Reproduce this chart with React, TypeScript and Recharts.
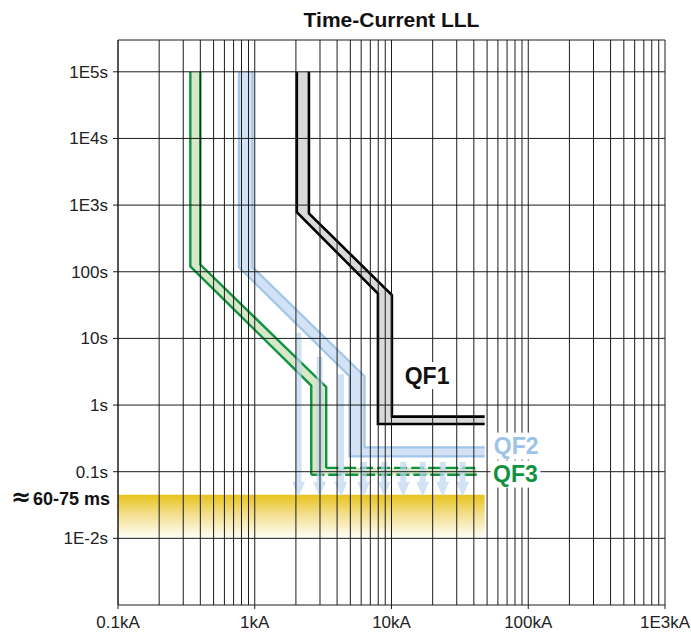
import React from 'react';
import { ComposedChart, Scatter, XAxis, YAxis, CartesianGrid, ReferenceArea } from 'recharts';

const FONT = '"Liberation Sans", Arial, Helvetica, sans-serif';
const INK = '#1c1c1c';

// axes
const xTicks = [0.1, 1, 10, 100, 1000];
const xTickLabels = ['0.1kA', '1kA', '10kA', '100kA', '1E3kA'];
const xGridLines = [
  0.1, 0.2, 0.3, 0.4, 0.5, 0.6, 0.7, 0.8, 0.9,
  1, 2, 3, 4, 5, 6, 7, 8, 9,
  10, 20, 30, 40, 50, 60, 70, 80, 90,
  100, 200, 300, 400, 500, 600, 700, 800, 900,
  1000,
];
const yTicks = [0.01, 0.1, 1, 10, 100, 1000, 10000, 100000];
const yTickLabels = ['1E-2s', '0.1s', '1s', '10s', '100s', '1E3s', '1E4s', '1E5s'];
const yMin = 0.001;
const yMax = 300000;

// breaker bands, [current kA, time s]: fast edge and slow edge
const qf1Min = [[2.03, 1e5], [2.03, 780], [7.96, 47], [7.96, 0.52], [48, 0.52]];
const qf1Max = [[2.49, 1e5], [2.49, 750], [10.07, 44.7], [10.07, 0.67], [48, 0.67]];
const qf2Min = [[0.766, 1e5], [0.766, 117], [4.93, 2.7], [4.93, 0.17], [48, 0.17]];
const qf2Max = [[0.964, 1e5], [0.964, 117], [6.35, 2.7], [6.35, 0.232], [48, 0.232]];
const qf3Min = [[0.338, 1e5], [0.338, 120], [2.59, 1.96], [2.59, 0.09], [42, 0.09]];
const qf3Max = [[0.4, 1e5], [0.4, 128], [3.33, 1.87], [3.33, 0.114], [42, 0.114]];

// down arrows (kA, start time s), all ending at arrowTo
const arrowCurrents = [2.09, 2.98, 4.27, 6.26, 8.85, 12.2, 16.9, 23.7, 33.1];
const arrowFrom = [12.2, 5.3, 2.9, 0.14, 0.14, 0.14, 0.14, 0.14, 0.14];
const arrowTo = 0.042;

// let-through band
const bandCurrents = [0.1, 48];
const bandTimes = [0.01, 0.045];
const bandLabel = '60-75 ms';
const bandLabelAt = [0.1, 0.0394];

const labelNames = ['QF1', 'QF2', 'QF3'];
const labelCurrents = [18.2, 81.6, 80.5];
const labelTimes = [2.77, 0.242, 0.092];
const labelColors = ['#111111', '#9dc3e6', '#12923f'];

const pts = (arr: number[][]) => arr.map(([i, t]) => ({ i, t }));
const pathD = (points: any[], close = false) =>
  points.map((p, k) => `${k ? 'L' : 'M'}${p.x},${p.y}`).join('') + (close ? 'Z' : '');
const noDot = () => <g />;

function band(min: number[][], max: number[][], fill: string, key: string) {
  return (
    <Scatter
      key={key}
      data={pts([...min, ...max.slice().reverse()])}
      shape={noDot}
      line={(p: any) => <path d={pathD(p.points, true)} fill={fill} stroke="none" />}
      isAnimationActive={false}
    />
  );
}

function edge(line: number[][], stroke: string, width: number, key: string, dash?: string) {
  return (
    <Scatter
      key={key}
      data={pts(line)}
      shape={noDot}
      line={(p: any) => (
        <path
          d={pathD(p.points)}
          fill="none"
          stroke={stroke}
          strokeWidth={width}
          strokeDasharray={dash}
          strokeLinejoin="miter"
        />
      )}
      isAnimationActive={false}
    />
  );
}

function arrow(i: number, from: number, k: number) {
  return (
    <Scatter
      key={'arrow' + k}
      data={pts([[i, from], [i, arrowTo]])}
      shape={noDot}
      line={(p: any) => {
        const [a, b] = p.points;
        const head = 15;
        return (
          <g fill="#bcd5f0" fillOpacity={0.7}>
            <rect x={a.x - 3} y={a.y} width={6} height={b.y - head - a.y} />
            <path d={`M${b.x - 6.5},${b.y - head}L${b.x + 6.5},${b.y - head}L${b.x},${b.y}Z`} />
          </g>
        );
      }}
      isAnimationActive={false}
    />
  );
}

export default function App() {
  return (
    <div style={{ position: 'absolute', left: 0, top: 0, width: 691, height: 634 }}>
      <svg width={0} height={0} style={{ position: 'absolute' }}>
        <defs>
          <linearGradient id="bandFill" x1="0" y1="0" x2="0" y2="1">
            <stop offset="0%" stopColor="#e8c21b" />
            <stop offset="45%" stopColor="#f3df8f" />
            <stop offset="100%" stopColor="#fffef8" />
          </linearGradient>
        </defs>
      </svg>
      <div
        style={{
          position: 'absolute', left: 118, top: 8, width: 547, textAlign: 'center',
          fontFamily: FONT, fontWeight: 'bold', fontSize: 21, lineHeight: '24px', color: '#111',
        }}
      >
        Time-Current LLL
      </div>
      <ComposedChart width={691} height={634} margin={{ top: 40, right: 26, bottom: 0, left: 0 }}>
        <XAxis
          dataKey="i"
          type="number"
          scale="log"
          domain={[0.1, 1000]}
          ticks={xTicks}
          interval={0}
          tickFormatter={(v: number) => xTickLabels[xTicks.indexOf(v)]}
          height={29}
          tickSize={4}
          tickMargin={7}
          axisLine={{ stroke: INK }}
          tickLine={{ stroke: INK }}
          tick={{ fontSize: 17, fill: '#222', fontFamily: FONT }}
        />
        <YAxis
          dataKey="t"
          type="number"
          scale="log"
          domain={[yMin, yMax]}
          ticks={yTicks}
          interval={0}
          tickFormatter={(v: number) => yTickLabels[yTicks.indexOf(v)]}
          width={118}
          tickSize={5}
          tickMargin={5}
          axisLine={{ stroke: INK }}
          tickLine={{ stroke: INK }}
          tick={{ fontSize: 17, fill: '#222', fontFamily: FONT }}
        />
        <ReferenceArea
          x1={bandCurrents[0]}
          x2={bandCurrents[1]}
          y1={bandTimes[0]}
          y2={bandTimes[1]}
          fill="url(#bandFill)"
          fillOpacity={1}
          stroke="none"
        />
        {band(qf1Min, qf1Max, '#d9d9d9', 'f1')}
        {band(qf2Min, qf2Max, '#d3e3f5', 'f2')}
        {band(qf3Min, qf3Max, '#d6e8c8', 'f3')}
        {edge(qf1Min, '#000', 2.6, 'l1a')}
        {edge(qf1Max, '#000', 2.6, 'l1b')}
        {edge(qf2Min, '#a2c6ea', 2.2, 'l2a')}
        {edge(qf2Max, '#a2c6ea', 2.2, 'l2b')}
        {edge(qf3Min.slice(0, 4), '#119342', 2.4, 'l3a')}
        {edge(qf3Max.slice(0, 4), '#119342', 2.4, 'l3b')}
        {edge(qf3Min.slice(3), '#119342', 2.4, 'l3c', '13 4')}
        {edge(qf3Max.slice(3), '#119342', 2.4, 'l3d', '13 4')}
        {arrowCurrents.map((i, k) => arrow(i, arrowFrom[k], k))}
        <CartesianGrid
          stroke={INK}
          strokeWidth={1}
          verticalValues={xGridLines}
          horizontalValues={[...yTicks, yMax]}
          zIndex={900}
        />
        {labelNames.map((name, k) => (
          <Scatter
            key={name}
            data={pts([[labelCurrents[k], labelTimes[k]]])}
            zIndex={1000}
            isAnimationActive={false}
            shape={(s: any) => (
              <g>
                <rect x={s.cx - 25} y={s.cy - 13.5} width={50} height={27} fill="#fff" />
                <text
                  x={s.cx}
                  y={s.cy}
                  dy="0.36em"
                  textAnchor="middle"
                  fill={labelColors[k]}
                  fontSize={23}
                  fontWeight="bold"
                  fontFamily={FONT}
                >
                  {name}
                </text>
              </g>
            )}
          />
        ))}
        <Scatter
          data={pts([bandLabelAt])}
          zIndex={1000}
          isAnimationActive={false}
          shape={(s: any) => (
            <text
              x={s.cx - 8}
              y={s.cy}
              dy="0.36em"
              textAnchor="end"
              fill="#111"
              fontSize={18}
              fontWeight="bold"
              fontFamily={FONT}
            >
              <tspan fontSize={24} fontFamily="DejaVu Sans">≈</tspan>
              <tspan dx={2}>{bandLabel}</tspan>
            </text>
          )}
        />
      </ComposedChart>
    </div>
  );
}
